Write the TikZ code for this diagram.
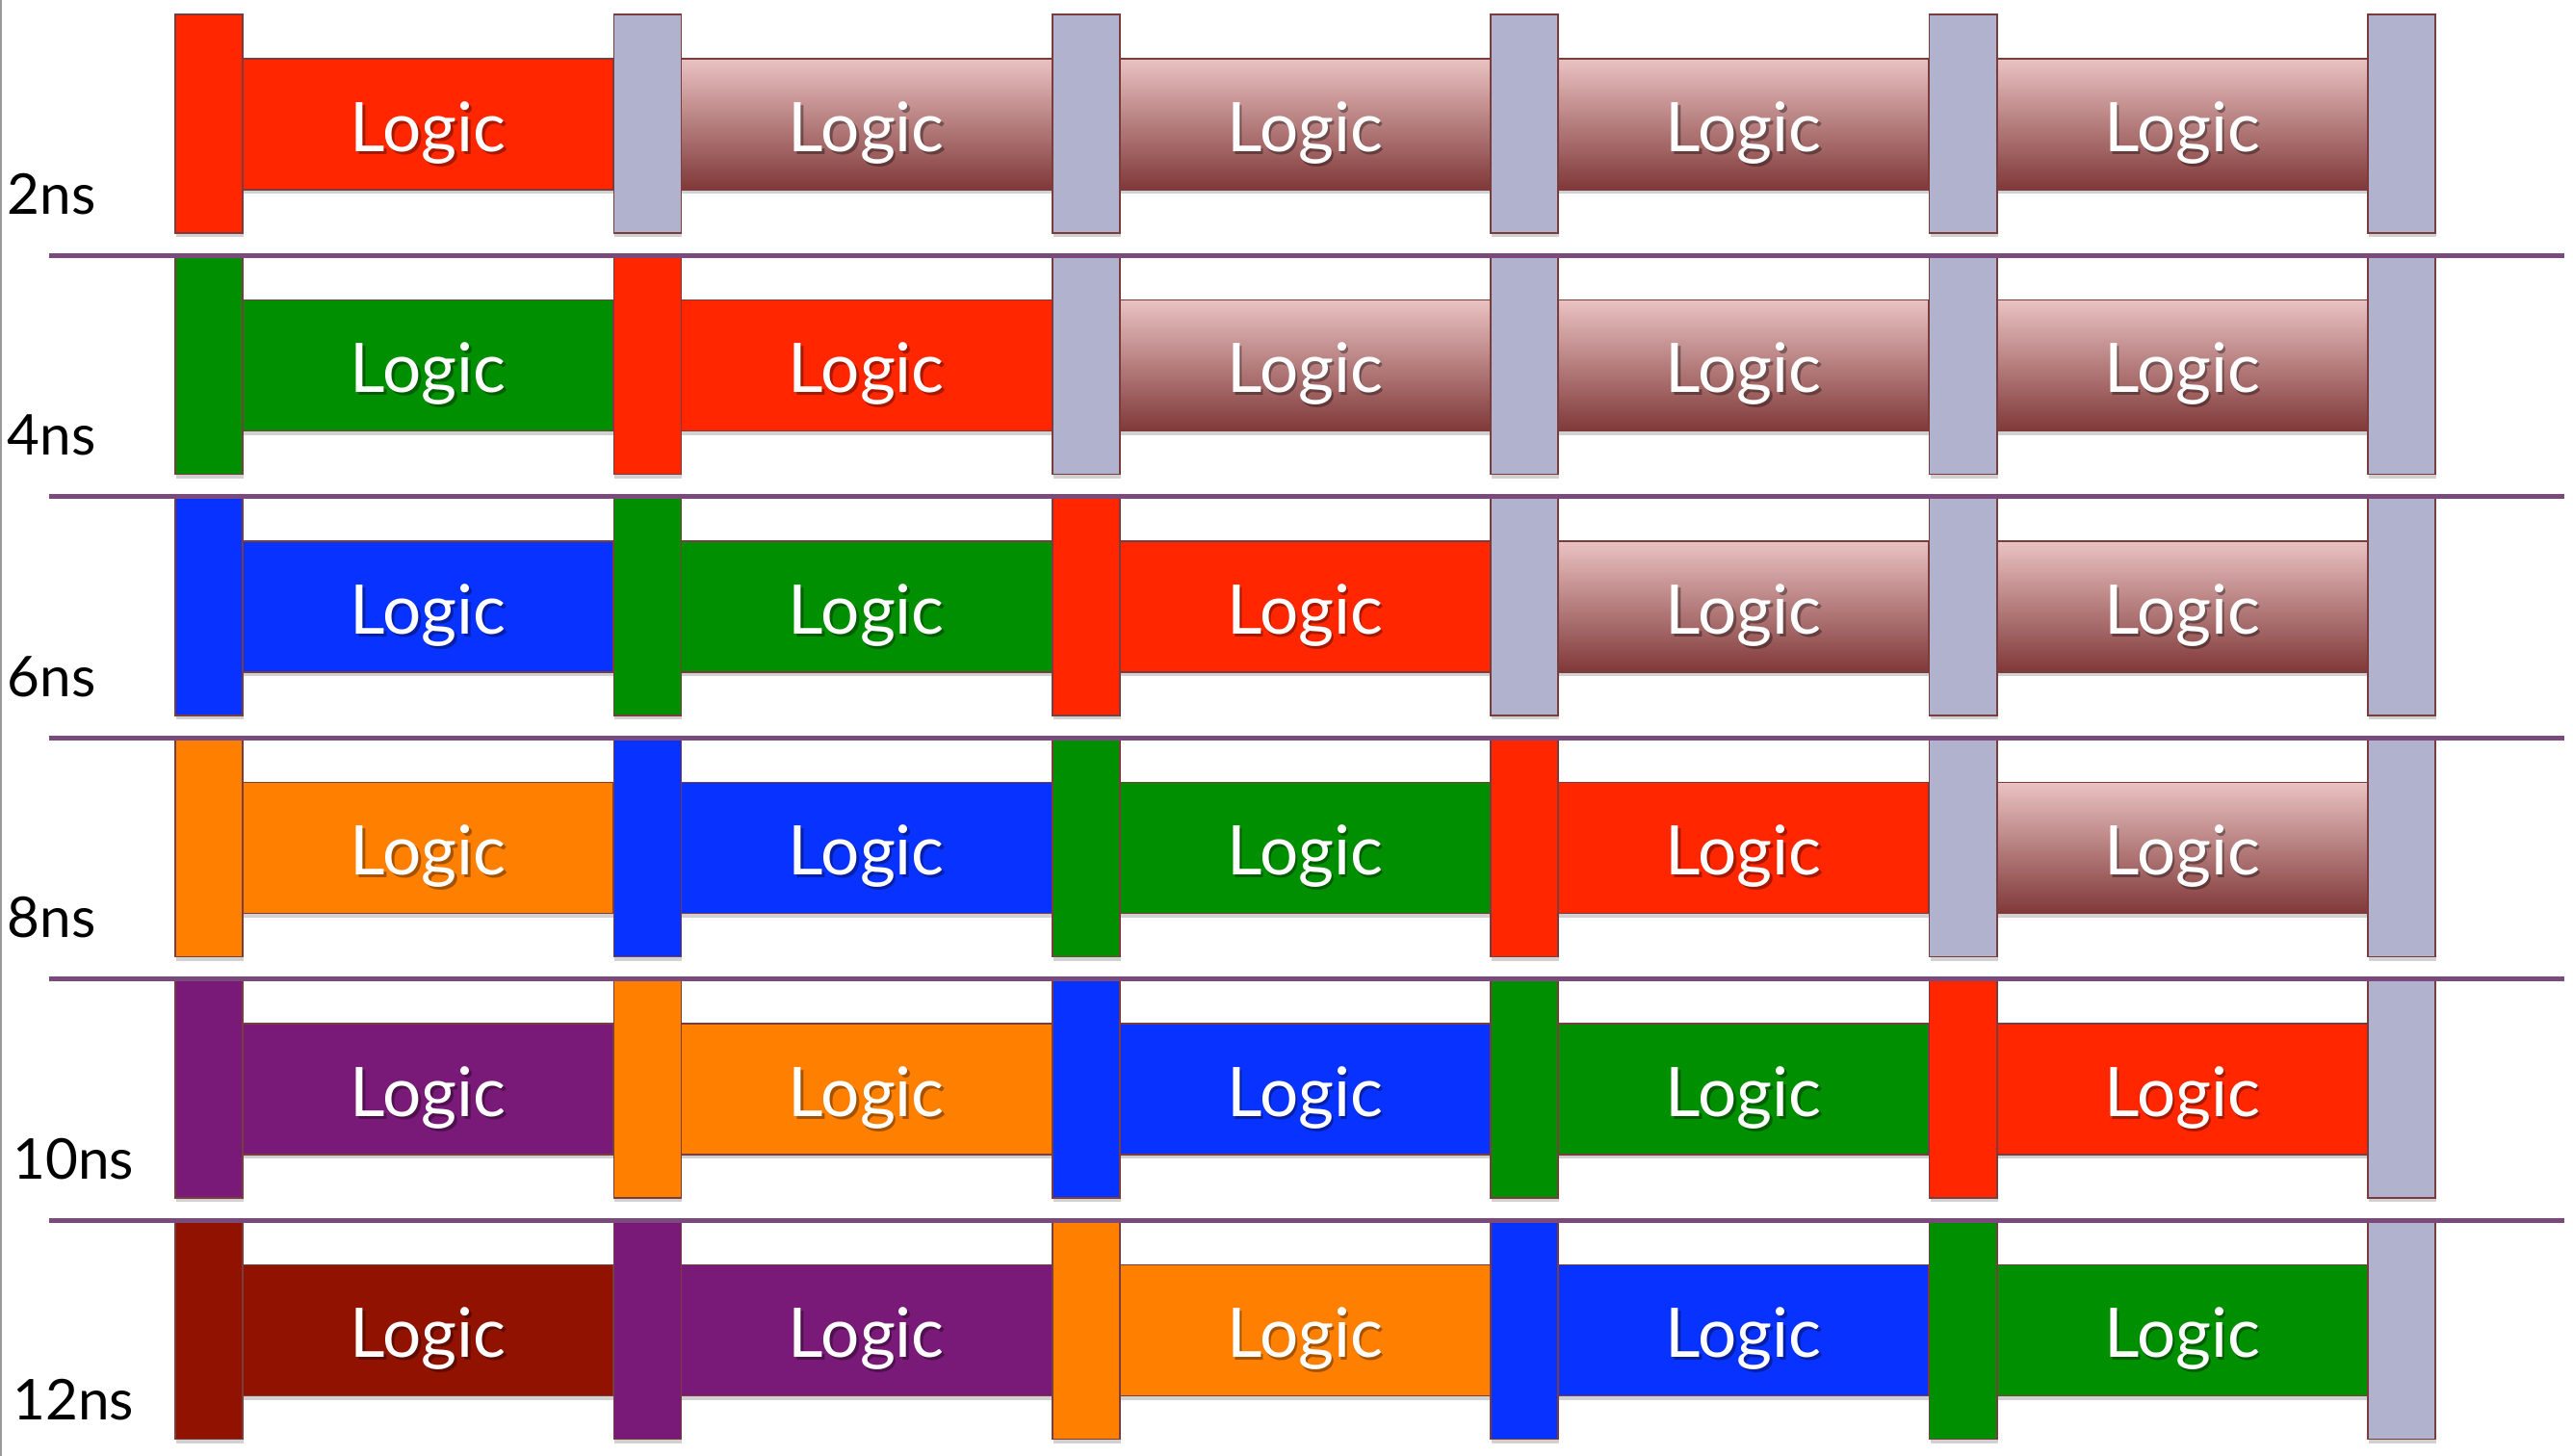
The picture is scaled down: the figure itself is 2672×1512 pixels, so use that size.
\documentclass[tikz,border=0pt]{standalone}
\usepackage{fontspec}
\setmainfont{Lato}
\usetikzlibrary{shadows}
\definecolor{cRed}{RGB}{255,38,0}
\definecolor{cGreen}{RGB}{0,143,0}
\definecolor{cBlue}{RGB}{8,50,255}
\definecolor{cOrange}{RGB}{255,128,0}
\definecolor{cPurple}{RGB}{122,26,120}
\definecolor{cDark}{RGB}{146,18,0}
\definecolor{cGray}{RGB}{176,178,206}
\definecolor{cTop}{RGB}{234,194,194}
\definecolor{cBot}{RGB}{128,56,56}
\definecolor{cEdge}{RGB}{122,60,60}
\definecolor{cSep}{RGB}{122,74,124}
\begin{document}
\begin{tikzpicture}[x=0.01cm,y=-0.01cm,
  boxshadow/.style={drop shadow={shadow xshift=0.3pt,shadow yshift=-1.2pt,opacity=0.18,fill=black}},
  logicbox/.style={rectangle,draw=cEdge,line width=0.5pt,minimum width=3.85cm,minimum height=1.36cm,inner sep=0pt,boxshadow},
  regbox/.style={rectangle,draw=cEdge,line width=0.5pt,minimum width=0.70cm,minimum height=2.27cm,inner sep=0pt,boxshadow},
  txt/.style={inner sep=0pt,text height=0.56cm,text depth=0pt,text=white,font=\fontsize{20.2pt}{24pt}\selectfont},
  txtshadow/.style={txt,text=black,opacity=0.35},
  lbl/.style={inner sep=0pt,anchor=base west,font=\fontsize{16.6pt}{20pt}\selectfont},
  sepline/.style={draw=cSep,line width=0.05cm},
  la0/.style={top color=cTop,bottom color=cBot},
  la1/.style={fill=cRed}, la2/.style={fill=cGreen}, la3/.style={fill=cBlue},
  la4/.style={fill=cOrange}, la5/.style={fill=cPurple}, la6/.style={fill=cDark},
  ra0/.style={fill=cGray},
  ra1/.style={fill=cRed}, ra2/.style={fill=cGreen}, ra3/.style={fill=cBlue},
  ra4/.style={fill=cOrange}, ra5/.style={fill=cPurple}, ra6/.style={fill=cDark}]
\useasboundingbox (0,0) rectangle (2672,1512);
\fill[white] (0,0) rectangle (2672,1512);
% left border
\coordinate (bt) at (1,0);
\coordinate (bb) at (1,1512);
\draw[gray!80,line width=0.02cm] (bt) -- (bb);
% logic boxes
\foreach \r in {1,...,6}{
  \foreach \c in {1,...,5}{
    \pgfmathtruncatemacro\a{max(0,\r-\c+1)}
    \pgfmathsetmacro\lx{444.5+455.4*(\c-1)}
    \pgfmathsetmacro\ly{129+250.5*(\r-1)}
    \node[logicbox,la\a] (L\r\c) at (\lx,\ly) {};
    \node[txtshadow] (S\r\c) at ([xshift=0.025cm,yshift=-0.03cm]L\r\c.center) {Logic};
    \node[txt] (T\r\c) at (L\r\c.center) {Logic};
  }
}
% registers
\foreach \r in {1,...,6}{
  \foreach \c in {1,...,6}{
    \pgfmathtruncatemacro\a{max(0,\r-\c+1)}
    \ifnum\c=6 \def\a{0}\fi
    \pgfmathsetmacro\rx{217+455.4*(\c-1)}
    \pgfmathsetmacro\ry{128.5+250.5*(\r-1)}
    \node[regbox,ra\a] (R\r\c) at (\rx,\ry) {};
  }
}
% separators
\foreach \k in {1,...,5}{
  \pgfmathsetmacro\sy{265+250.5*(\k-1)}
  \coordinate (sL\k) at (51,\sy);
  \coordinate (sR\k) at (2663,\sy);
  \draw[sepline] (sL\k) -- (sR\k);
}
% labels
\foreach \r/\t/\x in {1/2ns/7,2/4ns/7,3/6ns/7,4/8ns/7,5/10ns/13,6/12ns/13}{
  \pgfmathsetmacro\by{222+250.5*(\r-1)}
  \node[lbl] (N\r) at (\x,\by) {\t};
}
\end{tikzpicture}
\end{document}
